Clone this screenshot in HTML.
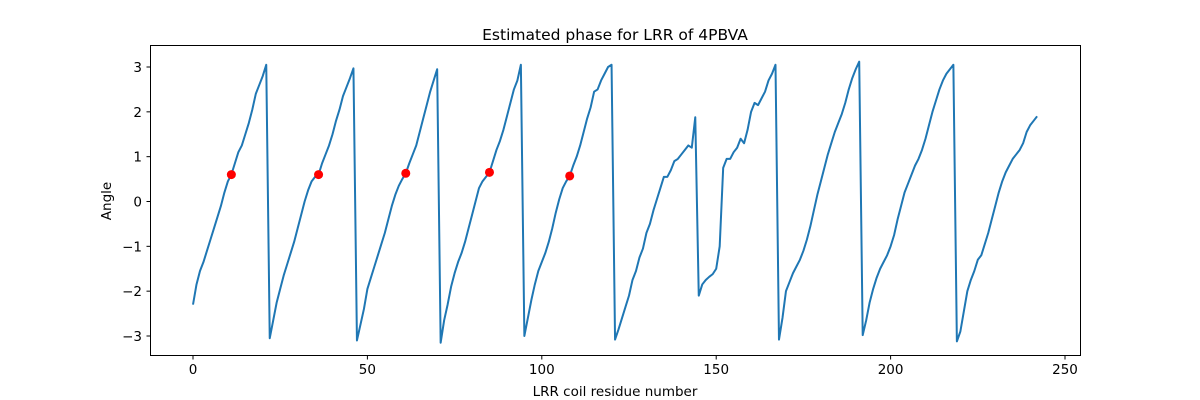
<!DOCTYPE html>
<html><head><meta charset="utf-8"><style>
body{margin:0;background:#fff}
svg{display:block;font-family:"DejaVu Sans","Liberation Sans",sans-serif}
</style></head><body>
<svg id="chart" width="1200" height="400">
<rect width="1200" height="400" fill="#fff"/>
<text x="615" y="40" font-size="15.5" text-anchor="middle">Estimated phase for LRR of 4PBVA</text>
<text x="615" y="396" font-size="13.5" text-anchor="middle">LRR coil residue number</text>
<text x="111" y="201" font-size="13.5" text-anchor="middle" transform="rotate(-90 111 201)">Angle</text>
<g id="ticks"></g>
<g id="plot"></g>
<rect x="150.5" y="45.5" width="930" height="310" fill="none" stroke="#000" stroke-width="1"/>
</svg>
<script>
const xTicks=[0,50,100,150,200,250];
const yTicks=[-3,-2,-1,0,1,2,3];
const phase=[
-2.3,-1.85,-1.55,-1.35,-1.1,-0.85,-0.6,-0.35,-0.1,0.2,0.45,0.6,0.85,1.1,1.25,1.5,1.75,2.05,2.4,2.6,2.8,3.05,
-3.05,-2.65,-2.25,-1.95,-1.65,-1.4,-1.15,-0.9,-0.6,-0.3,0,0.25,0.45,0.55,0.6,0.85,1.05,1.25,1.5,1.8,2.05,2.35,2.55,2.75,2.97,
-3.1,-2.75,-2.4,-1.95,-1.7,-1.45,-1.2,-0.95,-0.7,-0.4,-0.1,0.15,0.35,0.5,0.63,0.85,1.05,1.25,1.55,1.85,2.15,2.45,2.7,2.95,
-3.15,-2.65,-2.3,-1.9,-1.6,-1.35,-1.15,-0.9,-0.6,-0.3,0,0.3,0.45,0.55,0.65,0.9,1.15,1.35,1.6,1.9,2.2,2.5,2.7,3.05,
-3.0,-2.6,-2.2,-1.85,-1.55,-1.35,-1.15,-0.9,-0.6,-0.25,0.05,0.3,0.45,0.57,0.8,1.0,1.25,1.55,1.85,2.1,2.45,2.5,2.7,2.85,3.0,3.05,
-3.08,-2.85,-2.6,-2.35,-2.1,-1.75,-1.55,-1.25,-1.05,-0.7,-0.5,-0.2,0.05,0.3,0.55,0.55,0.7,0.9,0.95,1.05,1.15,1.25,1.2,1.88,
-2.1,-1.85,-1.75,-1.68,-1.62,-1.5,-1.0,0.75,0.95,0.95,1.1,1.2,1.4,1.3,1.6,2.0,2.2,2.15,2.3,2.45,2.7,2.85,3.05,
-3.08,-2.6,-2.0,-1.8,-1.6,-1.45,-1.3,-1.1,-0.85,-0.55,-0.2,0.15,0.45,0.75,1.05,1.3,1.55,1.75,1.95,2.2,2.5,2.75,2.95,3.12,
-2.98,-2.65,-2.25,-1.95,-1.7,-1.5,-1.35,-1.2,-1.0,-0.75,-0.4,-0.1,0.2,0.4,0.6,0.8,0.95,1.15,1.4,1.7,2.0,2.25,2.5,2.7,2.85,2.95,3.05,
-3.12,-2.9,-2.45,-2.0,-1.75,-1.55,-1.3,-1.2,-0.95,-0.7,-0.4,-0.1,0.2,0.45,0.65,0.8,0.95,1.05,1.15,1.3,1.55,1.7,1.8,1.9];
const markerX=[11,36,61,85,108];
const markerY=[0.6,0.6,0.63,0.65,0.57];

const NS="http://www.w3.org/2000/svg";
const sx=v=>193+v*3.488;
const sy=v=>201.5-v*44.83;
const ticks=document.getElementById('ticks');
const plot=document.getElementById('plot');
function mk(tag,attrs,parent){const e=document.createElementNS(NS,tag);for(const k in attrs)e.setAttribute(k,attrs[k]);parent.appendChild(e);return e;}
xTicks.forEach(t=>{
  const l=mk('line',{x1:sx(t),x2:sx(t),y1:356,y2:359.5,stroke:'#000'},ticks);
  
  
  const tx=mk('text',{x:sx(t),y:374,'font-size':13.5,'text-anchor':'middle'},ticks);
  tx.textContent=t;
  
  
});
yTicks.forEach(t=>{
  const l=mk('line',{x1:146.5,x2:150,y1:sy(t),y2:sy(t),stroke:'#000'},ticks);
  
  
  const tx=mk('text',{x:142,y:sy(t)+5,'font-size':13.5,'text-anchor':'end'},ticks);
  tx.textContent=(t<0?'\u2212'+(-t):t);
  
  
});
const pts=phase.map((v,i)=>sx(i).toFixed(2)+','+sy(v).toFixed(2)).join(' ');
const pl=mk('polyline',{points:pts,fill:'none',stroke:'#1f77b4','stroke-width':2,'stroke-linejoin':'round'},plot);


markerX.forEach((x,i)=>{
  const c=mk('circle',{cx:sx(x),cy:sy(markerY[i]),r:4.5,fill:'#ff0000'},plot);
  
  
});
</script>
</body></html>
